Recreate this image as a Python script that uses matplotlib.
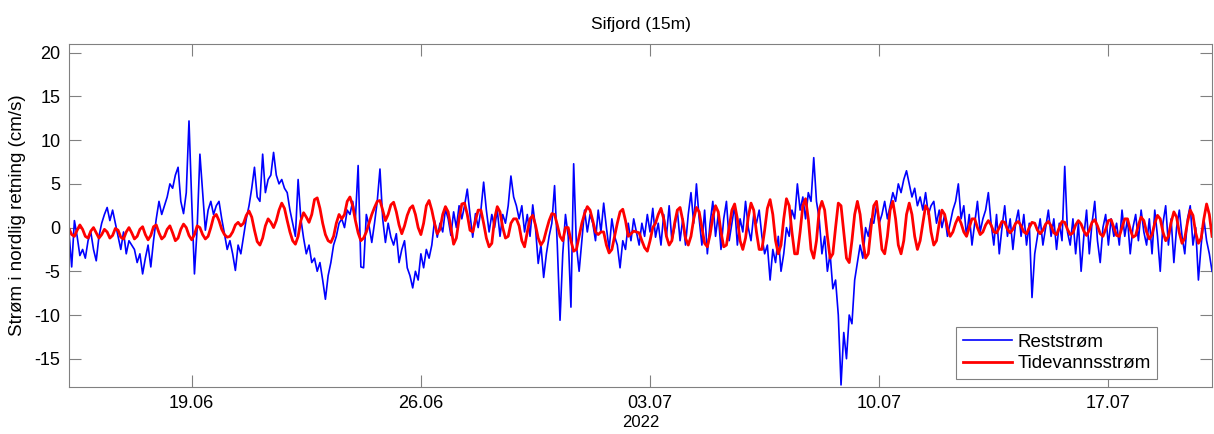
import numpy as np
import pandas as pd
import matplotlib
matplotlib.use('Agg')
import matplotlib.pyplot as plt
import matplotlib.dates as mdates

plt.rcParams['font.family'] = ['Liberation Sans', 'DejaVu Sans']
plt.rcParams['axes.unicode_minus'] = False

# 2-hourly values, starting 15.06.2022 06:00
start_time = '2022-06-15 06:00'

# residual current (cm/s), one week per list, 12 values per day
resid_w1 = [
    -0.5, -4.5, 0.8, -1.0, -3.2, -2.5, -3.5, -1.5, -0.5, -2.5, -3.8, -1.0,
    0.5, 1.5, 2.3, 0.8, 2.0, 0.5, -1.0, -2.5, -0.5, -3.0, -1.5, -2.0,
    -2.5, -4.0, -3.0, -5.3, -3.5, -2.0, -4.5, -1.5, 1.0, 3.0, 1.5, 2.5,
    3.5, 5.0, 4.5, 6.0, 6.9, 3.0, 1.6, 4.0, 12.2, 3.0, -5.3, 0.0,
    8.4, 4.0, -0.3, 2.0, 3.0, 1.5, 2.5, 3.0, 1.0, -0.7, -2.5, -1.5,
    -3.0, -4.9, -2.0, -3.0, -1.0, 1.0, 2.5, 4.5, 6.9, 3.5, 3.0, 8.4,
    4.0, 5.5, 6.0, 8.6, 6.0, 5.0, 5.5, 4.5, 4.0, 2.0, 0.5, -1.0,
]
resid_w2 = [
    5.5, 1.0, -1.2, -3.0, -2.0, -4.0, -3.5, -5.0, -4.0, -6.0, -8.2, -5.5,
    -4.0, -2.0, -1.0, 0.5, 1.0, 0.0, 2.0, 1.5, 3.0, 1.0, 7.1, -4.5,
    -4.6, 1.5, 0.2, -1.7, 0.5, 3.0, 6.7, 1.0, -1.7, 0.5, -1.1, -2.0,
    -0.7, -4.0, -2.5, -1.5, -4.6, -5.5, -6.9, -5.0, -6.0, -3.0, -4.6, -2.5,
    -3.5, -2.0, 0.8, -1.1, 0.5, -0.5, 2.1, 1.0, -0.9, 1.8, 0.0, 2.5,
    1.0, 2.5, 4.4, 1.5, -1.1, 1.6, 0.0, 2.0, 5.2, 2.0, -0.5, 1.5,
    0.0, 2.0, -1.0, 1.5, 0.5, 2.5, 5.9, 3.5, 2.5, 1.0, 2.5, -0.5,
]
resid_w3 = [
    1.5, -1.0, 2.6, 0.0, -4.1, -2.0, -5.7, -3.0, -1.0, 0.5, 4.8, -2.0,
    -10.6, -3.0, 1.5, -1.0, -9.1, 7.3, -2.0, -5.0, -1.5, 2.0, -0.5, 1.5,
    0.5, -1.5, 2.0, -0.5, 2.8, 0.0, -2.5, 1.0, -1.0, -2.0, -4.6, -1.5,
    -2.5, 0.5, -1.5, 1.0, -0.5, -2.0, 0.5, -1.0, 1.5, -0.5, 2.2, -1.1,
    0.5, -2.0, 1.5, -1.0, 2.5, -1.5, 0.0, 2.0, -1.5, 1.0, -2.0, 1.5,
    4.0, 0.5, 5.0, 1.0, -2.0, 2.0, -3.0, 0.5, 3.0, -1.0, 1.5, -2.5,
    1.0, 3.0, -1.5, 0.5, 2.5, -2.0, 1.0, -0.5, 3.0, 0.0, -1.5, 1.5,
]
resid_w4 = [
    0.5, 2.0, -1.0, -3.0, -2.0, -6.0, -2.5, -4.0, -1.0, -5.0, -3.0, 0.0,
    -1.0, 2.0, 1.0, 5.0, 2.0, 3.5, 1.0, 4.0, 3.0, 8.0, 3.0, 1.0,
    -3.0, -1.0, -5.0, -3.0, -7.0, -6.0, -10.0, -18.0, -12.0, -15.0, -10.0, -11.0,
    -6.0, -4.0, -2.0, -3.5, 0.0, -1.0, 1.0, 0.5, 2.5, 0.5, 1.5, 3.0,
    1.0, 2.5, 4.0, 3.0, 5.0, 4.0, 5.5, 6.5, 5.0, 3.5, 4.5, 2.5,
    3.5, 2.0, 4.0, 1.5, 2.5, 3.0, 0.5, 2.0, 0.0, 1.5, -1.0, 0.5,
    2.0, 3.0, 5.0, 1.0, 2.5, -1.0, 1.5, -2.0, 0.5, 3.0, -0.5, 1.0,
]
resid_w5 = [
    2.0, 4.0, 0.5, -2.0, 1.5, -3.0, 0.0, 2.5, -1.0, 1.0, -2.5, 0.5,
    2.0, -1.0, 1.5, -2.0, 0.5, -8.0, -3.0, -1.0, 1.0, -2.0, 0.0, 2.0,
    -1.0, 1.0, -2.5, 0.5, -1.5, 7.0, -0.5, -2.0, 1.0, -3.0, 0.5, -5.0,
    -1.0, 2.0, -3.0, 0.5, 3.0, -1.5, -4.0, 0.0, 1.5, -2.0, 1.0, -1.0,
    0.5, -2.0, 2.0, -1.0, 1.0, -3.0, 0.0, 1.5, -1.5, 2.0, -0.5, -2.0,
    1.0, -3.0, 2.0, -1.0, -5.0, 0.5, 2.5, -2.0, 1.0, -4.0, 0.0, 2.0,
    -1.0, -3.0, 1.0, 2.5, -2.0, 0.0, -6.0, -2.0, 1.0, -1.5, -3.0, -5.0,
]

# tidal current (cm/s)
tide_w1 = [
    -0.1, -0.8, -1.0, -0.3, 0.3, -0.2, -1.0, -1.2, -0.4, 0.0, -0.6, -1.2,
    -0.8, -0.2, -0.5, -1.2, -0.9, -0.1, -0.3, -1.1, -1.3, -0.5, 0.0, -0.6,
    -1.3, -1.0, -0.2, 0.1, -0.8, -1.4, -0.9, 0.1, 0.3, -0.6, -1.3, -1.0,
    -0.2, 0.2, -0.6, -1.5, -1.2, -0.2, 0.4, 0.0, -0.9, -1.4, -0.8, 0.2,
    0.0, -0.8, -1.3, -1.0, 0.0, 1.2, 1.5, 0.8, -0.2, -0.8, -1.1, -1.0,
    -0.5, 0.3, 0.6, 0.2, 0.5, 1.4, 1.9, 1.2, -0.3, -1.6, -2.0, -1.2,
    0.2, 1.0, 0.6, 0.0, 0.8, 2.0, 2.8, 2.2, 0.8, -0.5, -1.5, -1.9,
]
tide_w2 = [
    -1.0, 0.8, 1.7, 1.2, 0.6, 1.5, 3.2, 3.4, 2.2, 0.5, -0.8, -1.5,
    -1.7, -1.0, 0.5, 1.5, 1.0, 1.5, 3.0, 3.5, 2.5, 0.8, -0.6, -1.5,
    -1.2, -0.5, 0.5, 1.5, 2.3, 3.0, 3.1, 2.0, 0.8, 1.5, 2.6, 2.9,
    1.8, 0.3, -0.7, 0.2, 1.4, 2.2, 2.5, 1.5, 0.0, -0.8, 0.5, 2.5,
    3.1, 2.0, 0.5, -0.7, -0.2, 1.5, 2.4, 1.8, 0.0, -1.9, -1.2, 1.0,
    2.7, 2.8, 1.5, -0.3, -0.5, 0.8, 2.0, 2.0, 0.5, -1.2, -2.2, -1.8,
    1.0, 2.4, 1.8, 0.0, -1.2, -1.0, 0.5, 1.0, 1.0, 0.2, -1.5, -2.2,
]
tide_w3 = [
    -0.5, 1.0, 1.4, 0.3, -1.2, -2.0, -1.5, -0.3, 0.8, 1.6, 1.5, 0.3,
    -1.0, -1.5, 0.0, 0.0, -1.5, -2.7, -2.5, -1.0, 0.5, 1.6, 2.4, 2.0,
    0.8, -0.5, -0.8, -0.5, -0.5, -2.0, -2.9, -2.5, -1.0, 0.5, 1.8, 2.1,
    0.8, -1.0, -0.7, -0.4, -0.5, -0.6, -1.5, -2.3, -2.7, -1.5, 0.0, 0.5,
    1.5, 2.2, 1.0, -1.0, -2.0, -1.5, 0.5, 2.0, 2.3, 0.8, -1.2, -2.0,
    -1.0, 1.0, 2.3, 1.8, 0.0, -1.8, -2.2, -0.8, 1.2, 2.5, 1.8, -0.5,
    -2.2, -2.0, 0.0, 2.0, 2.7, 1.0, -1.5, -2.5, -1.2, 1.2, 2.8, 2.0,
]
tide_w4 = [
    -0.5, -2.5, -2.5, -0.3, 2.2, 3.2, 1.5, -1.5, -3.0, -2.0, 1.0, 3.3,
    2.5, -0.5, -3.0, -3.0, -0.5, 2.5, 3.3, 1.0, -2.5, -3.5, -1.5, 2.0,
    3.0, 2.0, -1.0, -3.5, -3.0, 0.0, 2.8, 2.5, -0.5, -3.5, -4.0, -1.5,
    1.5, 3.0, 1.5, -1.5, -3.5, -3.0, 0.0, 2.5, 3.0, 0.5, -2.5, -3.0,
    -1.0, 2.0, 3.0, 1.0, -2.0, -3.0, -1.5, 1.5, 2.8, 1.5, -1.0, -2.5,
    -1.5, 0.5, 2.5, 2.0, -0.5, -2.0, -1.5, 0.5, 2.0, 1.5, 0.0, -1.0,
    -0.5, 0.5, 1.2, 0.5, -0.5, -1.0, 0.0, 1.0, 1.0, 0.0, -0.8, -0.5,
]
tide_w5 = [
    0.3, 0.8, 0.3, -0.5, -0.6, 0.0, 0.7, 0.6, -0.2, -0.6, -0.2, 0.5,
    0.7, 0.2, -0.5, -0.7, 0.0, 0.6, 0.5, -0.3, -0.7, -0.3, 0.4, 0.7,
    0.2, -0.6, -0.8, 0.0, 0.7, 0.6, -0.2, -0.8, -0.6, 0.3, 0.8, 0.4,
    -0.4, -0.9, -0.3, 0.6, 0.9, 0.2, -0.7, -1.0, -0.2, 0.8, 0.9, 0.0,
    -0.9, -1.0, 0.0, 1.0, 1.0, -0.2, -1.1, -0.9, 0.3, 1.2, 0.8, -0.5,
    -1.3, -0.8, 0.5, 1.4, 1.0, -0.5, -1.5, -1.0, 0.6, 1.8, 1.2, -0.6,
    -1.8, -1.2, 0.6, 2.0, 1.4, -0.6, -1.8, -1.2, 1.0, 2.7, 1.5, -1.0,
]

tick_dates = ['2022-06-19', '2022-06-26', '2022-07-03', '2022-07-10', '2022-07-17']


def main():
    resid = np.array(resid_w1 + resid_w2 + resid_w3 + resid_w4 + resid_w5)
    tide = np.array(tide_w1 + tide_w2 + tide_w3 + tide_w4 + tide_w5)
    t = pd.date_range(start_time, periods=len(resid), freq='2h')

    fig = plt.figure(figsize=(12.14, 4.34), dpi=100)
    ax = fig.add_axes([0.0568, 0.109, 0.9416, 0.7896])

    ax.plot(t, resid, color='#0000ff', lw=1.2, label='Reststrøm')
    ax.plot(t, tide, color='#ff0000', lw=2.0, label='Tidevannsstrøm')

    ax.set_xlim(t[0], t[-1])
    ax.set_ylim(-18.2, 21.0)
    ax.set_yticks(range(-15, 21, 5))
    ax.set_xticks(pd.to_datetime(tick_dates))
    ax.xaxis.set_major_formatter(mdates.DateFormatter('%d.%m'))

    ax.tick_params(direction='in', length=8.5, color='#808080', labelsize=13,
                   top=True, right=True, pad=6)
    for sp in ax.spines.values():
        sp.set_color('#808080')

    ax.set_title('Sifjord (15m)', fontsize=12.5, pad=11)
    ax.set_ylabel('Strøm i nordlig retning (cm/s)', fontsize=13.5, labelpad=6)
    ax.set_xlabel('2022', fontsize=12, labelpad=2)

    leg = ax.legend(loc='lower right', bbox_to_anchor=(0.952, 0.0225), borderaxespad=0,
                    fontsize=13.5, fancybox=False, framealpha=1, edgecolor='#808080',
                    handlelength=2.6, handletextpad=0.3, borderpad=0.35, labelspacing=0.25)
    leg.get_frame().set_linewidth(0.8)

    plt.savefig('out.png', dpi=100)
    plt.close()


if __name__ == "__main__":
    main()
